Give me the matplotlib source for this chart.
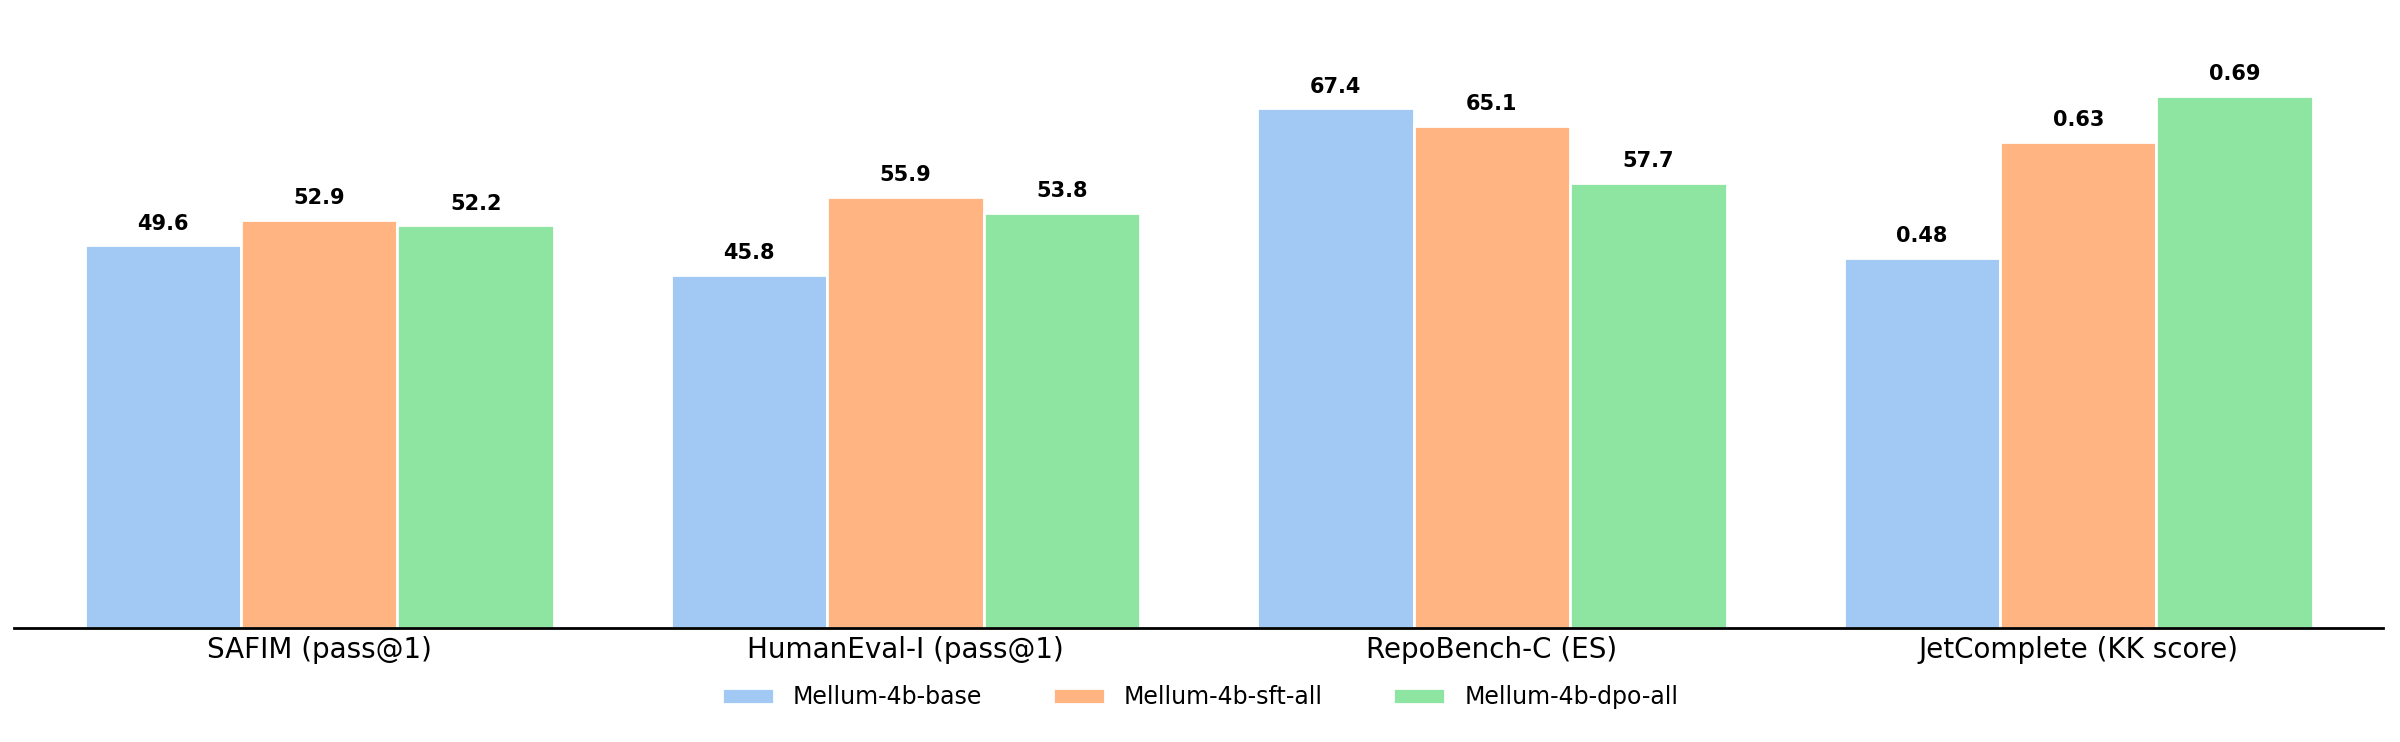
import matplotlib
matplotlib.use("Agg")
import matplotlib.pyplot as plt
import numpy as np
import seaborn as sns

# benchmark names and scores (JetComplete KK score shown as 0-1, plotted x100)
benchmarks = ['SAFIM (pass@1)', 'HumanEval-I (pass@1)', 'RepoBench-C (ES)', 'JetComplete (KK score)']
models = ['Mellum-4b-base', 'Mellum-4b-sft-all', 'Mellum-4b-dpo-all']
base = [49.6, 45.8, 67.4, 48.0]
sft = [52.9, 55.9, 65.1, 63.0]
dpo = [52.2, 53.8, 57.7, 69.0]
base_lbl = ['49.6', '45.8', '67.4', '0.48']
sft_lbl = ['52.9', '55.9', '65.1', '0.63']
dpo_lbl = ['52.2', '53.8', '57.7', '0.69']

colors = sns.color_palette('pastel')[:3]

fig = plt.figure(figsize=(24, 7.42), dpi=100)
ax = fig.add_axes([0.006, 0.154, 0.987, 0.826])

x = np.arange(len(benchmarks))
w = 0.8 / 3
for i, (vals, lbls) in enumerate([(base, base_lbl), (sft, sft_lbl), (dpo, dpo_lbl)]):
    bars = ax.bar(x + (i - 1) * w, vals, w, color=colors[i], edgecolor='white',
                  linewidth=2, label=models[i])
    for b, t in zip(bars, lbls):
        ax.text(b.get_x() + b.get_width() / 2, b.get_height() + 1.5, t,
                ha='center', va='bottom', fontsize=15, fontweight='bold')

ax.set_ylim(0, 79.5)
ax.set_xlim(-0.52, 3.52)
ax.set_xticks(x)
ax.set_xticklabels(benchmarks, fontsize=20)
ax.set_yticks([])
for s in ['top', 'right', 'left']:
    ax.spines[s].set_visible(False)
ax.spines['bottom'].set_linewidth(2)
ax.tick_params(axis='x', length=0, pad=6)

fig.legend(loc='center', bbox_to_anchor=(0.5, 0.06), ncol=3, frameon=False,
           fontsize=17, handlelength=2.2, columnspacing=3)

fig.savefig('out.png', dpi=100)
